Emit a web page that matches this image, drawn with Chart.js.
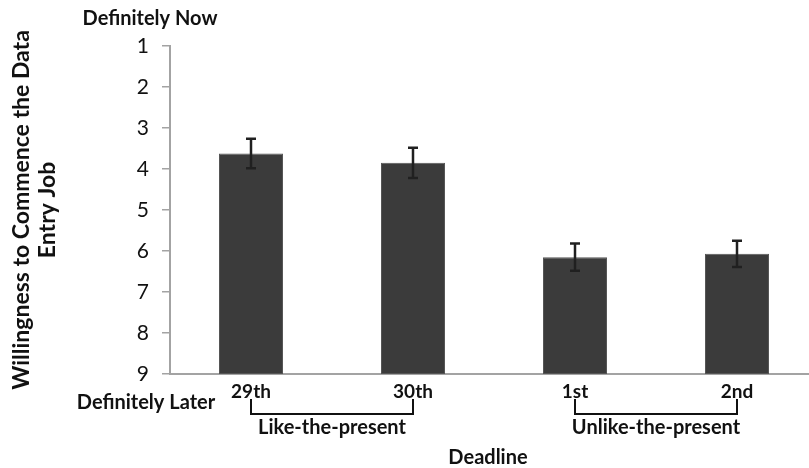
<!DOCTYPE html>
<html>
<head>
<meta charset="utf-8">
<script src="https://cdn.jsdelivr.net/npm/chart.js@4/dist/chart.umd.min.js"></script>
<style>
  html, body { margin: 0; padding: 0; background: #fff; overflow: hidden; }
  #wrap { position: relative; width: 830px; height: 468px; }
</style>
</head>
<body>
<div id="wrap"><canvas id="chart"></canvas></div>
<script>
const deadlines = ["29th", "30th", "1st", "2nd"];
const willingness = [3.62, 3.85, 6.15, 6.07];
const errors = [0.36, 0.37, 0.33, 0.32];
const yTicks = [1, 2, 3, 4, 5, 6, 7, 8, 9];
const groups = [
  { label: "Like-the-present", from: 0, to: 1 },
  { label: "Unlike-the-present", from: 2, to: 3 },
];

const axisGray = "#a3a3a3";
const ink = "#111";

const errorBars = {
  id: "errorBars",
  afterDatasetsDraw(chart) {
    const { ctx } = chart;
    const y = chart.scales.y;
    const meta = chart.getDatasetMeta(0);
    ctx.save();
    ctx.strokeStyle = "#202020";
    ctx.lineWidth = 2.5;
    meta.data.forEach((bar, i) => {
      const top = y.getPixelForValue(willingness[i] - errors[i]);
      const bottom = y.getPixelForValue(willingness[i] + errors[i]);
      ctx.beginPath();
      ctx.moveTo(bar.x, top);
      ctx.lineTo(bar.x, bottom);
      ctx.moveTo(bar.x - 5, top);
      ctx.lineTo(bar.x + 5, top);
      ctx.moveTo(bar.x - 5, bottom);
      ctx.lineTo(bar.x + 5, bottom);
      ctx.stroke();
    });
    ctx.restore();
  },
};

const annotations = {
  id: "annotations",
  afterDraw(chart) {
    const { ctx } = chart;
    const x = chart.scales.x;
    ctx.save();
    ctx.fillStyle = ink;
    ctx.textAlign = "center";
    ctx.textBaseline = "alphabetic";
    ctx.font = "bold 20px Lato";
    ctx.fillText("Definitely Now", 150, 25);
    ctx.fillText("Definitely Later", 146, 409);

    // group brackets under the category labels
    ctx.strokeStyle = ink;
    ctx.lineWidth = 2;
    groups.forEach((g) => {
      const x0 = x.getPixelForValue(g.from);
      const x1 = x.getPixelForValue(g.to);
      ctx.beginPath();
      ctx.moveTo(x0, 399);
      ctx.lineTo(x0, 414);
      ctx.lineTo(x1, 414);
      ctx.lineTo(x1, 399);
      ctx.stroke();
      ctx.fillText(g.label, (x0 + x1) / 2, 434);
    });

    ctx.fillText("Deadline", 488, 464);

    // y axis title, two lines
    ctx.translate(0, 210);
    ctx.rotate(-Math.PI / 2);
    ctx.font = "bold 23px Lato";
    ctx.fillText("Willingness to Commence the Data", 0, 29);
    ctx.fillText("Entry Job", 0, 55);
    ctx.restore();
  },
};

new Chart(document.getElementById("chart"), {
  type: "bar",
  data: {
    labels: deadlines,
    datasets: [
      {
        data: willingness.map((v) => [9, v]),
        backgroundColor: "#3b3b3b",
        borderColor: "#555",
        borderWidth: 1,
        borderSkipped: false,
        categoryPercentage: 1,
        barPercentage: 0.395,
      },
    ],
  },
  options: {
    responsive: true,
    maintainAspectRatio: false,
    animation: false,
    layout: { padding: { top: 46, right: 12, left: 0, bottom: 0 } },
    plugins: {
      legend: { display: false },
      tooltip: { enabled: false },
    },
    scales: {
      x: {
        grid: { display: true, drawOnChartArea: false, drawTicks: false },
        border: { display: true, color: axisGray, width: 2 },
        ticks: {
          color: ink,
          font: { family: "Lato", size: 19, weight: "bold" },
          padding: 6,
        },
        afterFit(scale) {
          scale.height = 94;
        },
      },
      y: {
        reverse: true,
        min: 1,
        max: 9,
        afterBuildTicks(scale) {
          scale.ticks = yTicks.map((v) => ({ value: v }));
        },
        grid: {
          display: true,
          drawOnChartArea: false,
          drawTicks: true,
          tickLength: 8,
          color: axisGray,
          lineWidth: 1.5,
        },
        border: { display: true, color: axisGray, width: 2 },
        ticks: {
          color: ink,
          font: { family: "Lato", size: 21 },
          padding: 13,
        },
        afterFit(scale) {
          scale.width = 170;
        },
      },
    },
  },
  plugins: [errorBars, annotations],
});
</script>
</body>
</html>
